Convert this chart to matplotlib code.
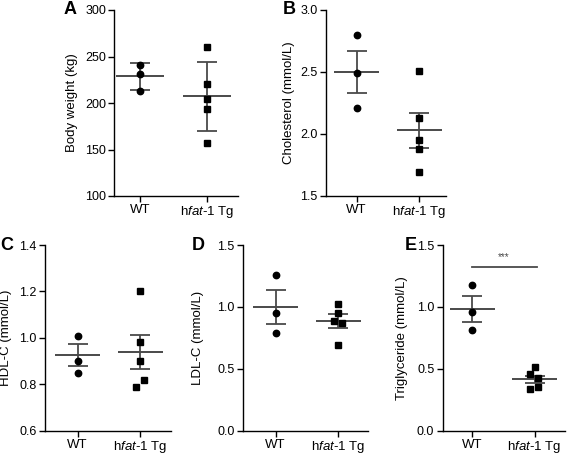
import numpy as np
import matplotlib
matplotlib.use("Agg")
import matplotlib.pyplot as plt

plt.rcParams["font.family"] = ["Liberation Sans", "DejaVu Sans"]
plt.rcParams["mathtext.fontset"] = "custom"
plt.rcParams["mathtext.rm"] = "Liberation Sans"
plt.rcParams["mathtext.it"] = "Liberation Sans:italic"

groups = ["WT", r"h$\it{fat}$-$\it{1}$ Tg"]

# values
body_wt = [241, 231, 213]
body_tg = [260, 220, 204, 194, 157]
body_mean = [228.5, 207]
body_err = [14.2, 37.5]

chol_wt = [2.80, 2.49, 2.21]
chol_tg = [2.51, 2.13, 1.95, 1.88, 1.69]
chol_mean = [2.50, 2.03]
chol_err = [0.17, 0.14]

hdl_wt = [1.01, 0.90, 0.85]
hdl_tg = [1.20, 0.98, 0.90, 0.82, 0.79]
hdl_mean = [0.925, 0.94]
hdl_err = [0.047, 0.073]

ldl_wt = [1.26, 0.95, 0.79]
ldl_tg = [1.02, 0.95, 0.886, 0.873, 0.69]
ldl_mean = [1.0, 0.885]
ldl_err = [0.138, 0.056]

tg_wt = [1.18, 0.955, 0.81]
tg_tg = [0.517, 0.455, 0.428, 0.355, 0.337]
tg_mean = [0.983, 0.415]
tg_err = [0.108, 0.030]

W, H = 567, 454
fig = plt.figure(figsize=(W / 100, H / 100), dpi=100)

GREY = "#4a4a4a"


def panel(letter, px, ylim, yticks, ylabel, xlim, wt, tg, mean, err,
          tg_jit=None, label_x=-0.3, fmt="{:.1f}"):
    left, right, top, bottom = px
    ax = fig.add_axes([left / W, 1 - bottom / H, (right - left) / W, (bottom - top) / H])
    ax.plot(np.zeros(len(wt)), wt, "o", color="black", ms=4.6, zorder=3)
    jit = np.zeros(len(tg)) if tg_jit is None else np.array(tg_jit)
    ax.plot(1 + jit, tg, "s", color="black", ms=4.6, zorder=3)
    ax.errorbar([0, 1], mean, yerr=err, fmt="none", ecolor=GREY,
                elinewidth=1.3, capsize=7, capthick=1.3, zorder=2)
    ax.hlines(mean, [-0.36, 0.64], [0.36, 1.36], colors=GREY, lw=1.4, zorder=2)
    ax.set_xlim(*xlim)
    ax.set_ylim(*ylim)
    ax.set_yticks(yticks)
    ax.set_yticklabels([fmt.format(v) for v in yticks], fontsize=9)
    ax.set_xticks([0, 1])
    ax.set_xticklabels(groups, fontsize=9.5)
    ax.set_ylabel(ylabel, fontsize=9.5)
    ax.yaxis.set_label_coords(label_x, 0.5)
    for s in ["top", "right"]:
        ax.spines[s].set_visible(False)
    for s in ["left", "bottom"]:
        ax.spines[s].set_linewidth(1.0)
    ax.tick_params(length=4, width=1.0, pad=2)
    return ax


panel("A", (114.3, 238.3, 10, 196), (100, 300), [100, 150, 200, 250, 300],
      "Body weight (kg)", (-0.385, 1.475), body_wt, body_tg, body_mean, body_err,
      label_x=-0.29, fmt="{:.0f}")
panel("B", (326, 446, 10, 196), (1.5, 3.0), [1.5, 2.0, 2.5, 3.0],
      "Cholesterol (mmol/L)", (-0.49, 1.43), chol_wt, chol_tg, chol_mean, chol_err,
      label_x=-0.255)
panel("C", (45, 170.7, 245, 430.7), (0.6, 1.4), [0.6, 0.8, 1.0, 1.2, 1.4],
      "HDL-C (mmol/L)", (-0.52, 1.49), hdl_wt, hdl_tg, hdl_mean, hdl_err,
      tg_jit=[0, 0, 0, 0.07, -0.06], label_x=-0.26)
panel("D", (243, 368, 245, 430.7), (0.0, 1.5), [0.0, 0.5, 1.0, 1.5],
      "LDL-C (mmol/L)", (-0.52, 1.48), ldl_wt, ldl_tg, ldl_mean, ldl_err,
      tg_jit=[0, 0, -0.07, 0.06, 0], label_x=-0.31)
axE = panel("E", (442.7, 565, 245, 430.7), (0.0, 1.5), [0.0, 0.5, 1.0, 1.5],
            "Triglyceride (mmol/L)", (-0.48, 1.49), tg_wt, tg_tg, tg_mean, tg_err,
            tg_jit=[0, -0.08, 0.06, 0.06, -0.08], label_x=-0.28)

# significance bar
axE.plot([0, 1.04], [1.325, 1.325], color=GREY, lw=1.3)
axE.text(0.5, 1.36, "***", ha="center", va="bottom", fontsize=7, color=GREY)

# panel letters
for letter, (x, y) in {"A": (70, 10), "B": (289, 10), "C": (7, 245),
                       "D": (198, 245), "E": (411, 245)}.items():
    fig.text(x / W, 1 - y / H, letter, fontsize=13, fontweight="bold",
             ha="center", va="center")

fig.savefig("out.png", dpi=100)
